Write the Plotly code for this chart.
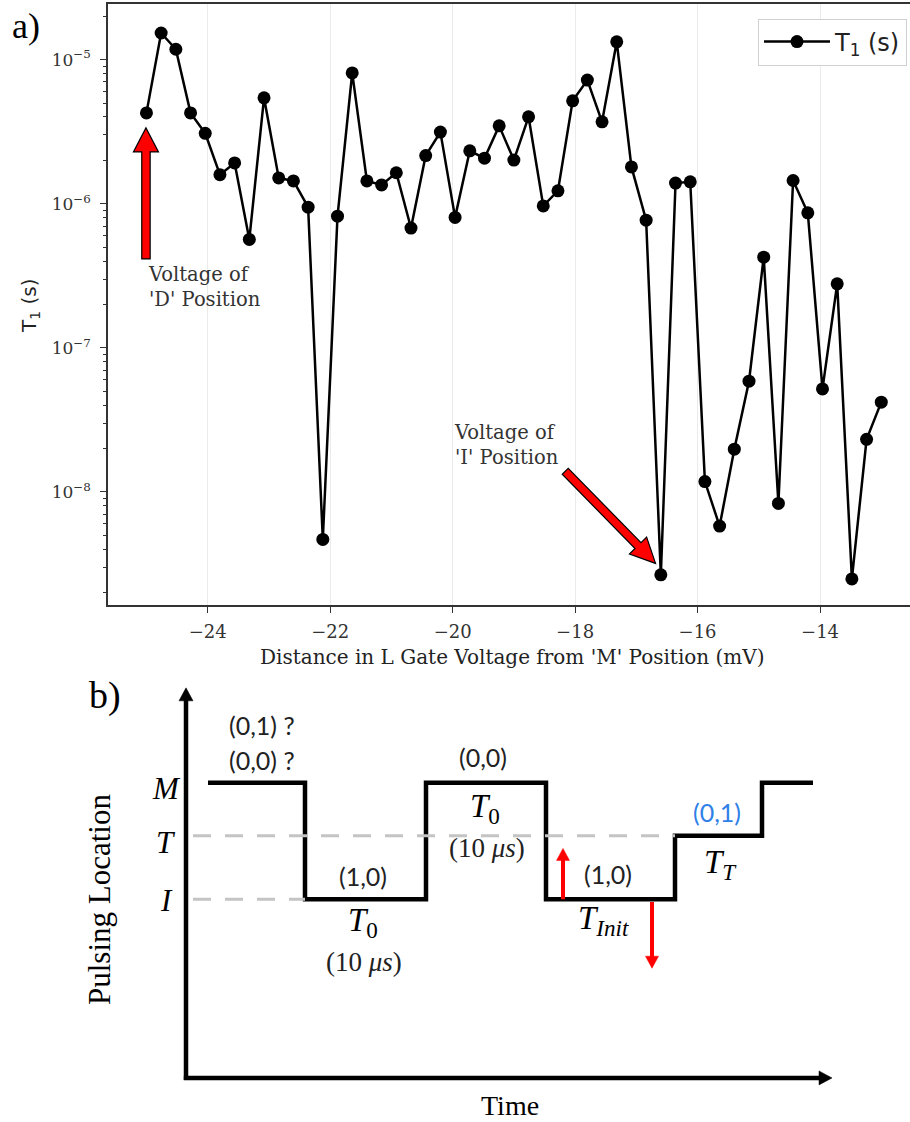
import math
import plotly.graph_objects as go

W, H = 910, 1122

# ---------------- Panel a) data ----------------
gate_mv = [-25.00, -24.76, -24.52, -24.28, -24.04, -23.80, -23.56, -23.32, -23.08, -22.84,
           -22.60, -22.36, -22.12, -21.88, -21.64, -21.40, -21.16, -20.92, -20.68, -20.44,
           -20.20, -19.96, -19.72, -19.48, -19.24, -19.00, -18.76, -18.52, -18.28, -18.04,
           -17.80, -17.56, -17.32, -17.08, -16.84, -16.60, -16.36, -16.12, -15.88, -15.64,
           -15.40, -15.16, -14.92, -14.68, -14.44, -14.20, -13.96, -13.72, -13.48, -13.24,
           -13.00]
t1_s = [4.27e-6, 1.53e-5, 1.18e-5, 4.27e-6, 3.08e-6, 1.59e-6, 1.92e-6, 5.65e-7, 5.43e-6, 1.51e-6,
        1.44e-6, 9.46e-7, 4.68e-9, 8.20e-7, 8.09e-6, 1.44e-6, 1.35e-6, 1.64e-6, 6.78e-7, 2.16e-6,
        3.14e-6, 8.04e-7, 2.33e-6, 2.07e-6, 3.47e-6, 2.01e-6, 4.01e-6, 9.66e-7, 1.23e-6, 5.18e-6,
        7.21e-6, 3.70e-6, 1.33e-5, 1.80e-6, 7.69e-7, 2.66e-9, 1.39e-6, 1.42e-6, 1.18e-8, 5.80e-9,
        1.98e-8, 5.87e-8, 4.26e-7, 8.32e-9, 1.45e-6, 8.65e-7, 5.19e-8, 2.78e-7, 2.49e-9, 2.32e-8,
        4.20e-8]
x_tick_vals = [-24, -22, -20, -18, -16, -14]
y_tick_vals = [1e-8, 1e-7, 1e-6, 1e-5]
y_tick_text = ["10<sup>−8</sup>", "10<sup>−7</sup>", "10<sup>−6</sup>", "10<sup>−5</sup>"]
y_minor_vals = [k * 10.0 ** e for e in range(-9, -4) for k in range(2, 10)]
d_point_index = 0     # "Voltage of 'D' Position"
i_point_index = 35    # "Voltage of 'I' Position"

# ---------------- Panel b) schematic ----------------
level_names = ["M", "T", "I"]
level_values = [2.2, 1.2, 0.0]
pulse_times = [2.2, 11.9, 24.0, 36.0, 48.9, 57.6, 62.7]
pulse_levels = ["M", "I", "M", "I", "T", "M", "M"]
axis_origin = [0.0, -3.37]
time_axis_end = 64.6
loc_axis_end = 3.99
dash_start = 0.7
tunnel_up_t, tunnel_up_top = 37.7, 0.96
tunnel_down_t, tunnel_down_bottom = 46.6, -1.30

lvl = dict(zip(level_names, level_values))

# schematic axis geometry
X2_RANGE = [-18.6, 72.4]
Y2_DOMAIN_TOP_PX = 650
Y2_RANGE = [-4.2019, 4.7038]
PX_PER_T = W / (X2_RANGE[1] - X2_RANGE[0])
PX_PER_LV = (H - Y2_DOMAIN_TOP_PX) / (Y2_RANGE[1] - Y2_RANGE[0])


def px(x):
    return x / W


def py(y):
    return 1 - y / H


SERIF = "DejaVu Serif"
SANS = "DejaVu Sans"
TNR = "Liberation Serif"
CAL = "Lato"

fig = go.Figure()

fig.add_trace(go.Scatter(
    x=gate_mv, y=t1_s, mode="lines+markers", name="T<sub>1</sub> (s)",
    line=dict(color="black", width=2.5),
    marker=dict(color="black", size=13),
    xaxis="x", yaxis="y"))


def poly_path(pts):
    return "M " + " L ".join(f"{a:.2f},{b:.2f}" for a, b in pts) + " Z"


def fat_arrow_path(tip, direction, total_len, head_len, head_half, shaft_half):
    dx, dy = direction
    n = math.hypot(dx, dy)
    ux, uy = dx / n, dy / n
    nx, ny = -uy, ux
    tx, ty = tip
    bx, by = tx - head_len * ux, ty - head_len * uy
    ex, ey = tx - total_len * ux, ty - total_len * uy
    pts = [(tx, ty),
           (bx + head_half * nx, by + head_half * ny),
           (bx + shaft_half * nx, by + shaft_half * ny),
           (ex + shaft_half * nx, ey + shaft_half * ny),
           (ex - shaft_half * nx, ey - shaft_half * ny),
           (bx - shaft_half * nx, by - shaft_half * ny),
           (bx - head_half * nx, by - head_half * ny)]
    return poly_path(pts)


shapes = []
for idx, tip, direc, tot, hl, hh in [
        (d_point_index, (-0.5, -15.0), (0, 1), 131, 24, 12.5),
        (i_point_index, (-5.3, 11.4), (90.3, -92.1), 129, 25, 12.0)]:
    shapes.append(dict(
        type="path", xref="x", yref="y", xsizemode="pixel", ysizemode="pixel",
        xanchor=gate_mv[idx], yanchor=t1_s[idx],
        path=fat_arrow_path(tip, direc, tot, hl, hh, 4.2),
        fillcolor="#ff0000", line=dict(color="black", width=1.2), layer="above"))


def head_shape(tx, ty, direction, length, half, color):
    """Triangular arrow head (pixel sized) anchored at a tip in schematic coords."""
    dx, dy = direction
    n = math.hypot(dx, dy)
    ux, uy = dx / n, dy / n
    nx, ny = -uy, ux
    bx, by = -length * ux, -length * uy
    pts = [(0, 0), (bx + half * nx, by + half * ny), (bx - half * nx, by - half * ny)]
    shapes.append(dict(
        type="path", xref="x2", yref="y2", xsizemode="pixel", ysizemode="pixel",
        xanchor=tx, yanchor=ty, path=poly_path(pts),
        fillcolor=color, line=dict(color=color, width=0.5), layer="above"))


# ---------------- Panel b traces ----------------
fig.add_trace(go.Scatter(
    x=pulse_times, y=[lvl[n] for n in pulse_levels], mode="lines", line_shape="hv",
    line=dict(color="black", width=4.5), showlegend=False, xaxis="x2", yaxis="y2"))

for name, end in [("T", pulse_times[4]), ("I", pulse_times[1])]:
    fig.add_trace(go.Scatter(
        x=[dash_start, end], y=[lvl[name], lvl[name]], mode="lines",
        line=dict(color="#c4c4c4", width=3, dash="18px,14px"),
        showlegend=False, xaxis="x2", yaxis="y2"))


def arrow_line(x0, y0, x1, y1, width, color, head_len, head_half):
    dxp = (x1 - x0) * PX_PER_T
    dyp = (y1 - y0) * PX_PER_LV
    n = math.hypot(dxp, dyp)
    back = head_len - 1.0
    xe = x1 - (dxp / n) * back / PX_PER_T
    ye = y1 - (dyp / n) * back / PX_PER_LV
    fig.add_trace(go.Scatter(
        x=[x0, xe], y=[y0, ye], mode="lines", line=dict(color=color, width=width),
        showlegend=False, xaxis="x2", yaxis="y2"))
    head_shape(x1, y1, (dxp, dyp), head_len, head_half, color)


arrow_line(axis_origin[0], axis_origin[1] - 0.04, axis_origin[0], loc_axis_end, 4.5, "black", 13, 7)
arrow_line(axis_origin[0] - 0.22, axis_origin[1], time_axis_end, axis_origin[1], 4.5, "black", 13, 7)
arrow_line(tunnel_up_t, lvl["I"], tunnel_up_t, tunnel_up_top, 4, "#ff0000", 12, 6.5)
arrow_line(tunnel_down_t, lvl["I"] - 0.05, tunnel_down_t, tunnel_down_bottom, 4, "#ff0000", 12, 6.5)

ann = []


def A(text, x, y, size, family, color="black", xref="paper", yref="paper", **kw):
    d = dict(text=text, x=x, y=y, xref=xref, yref=yref, showarrow=False,
             xanchor="center", yanchor="middle",
             font=dict(size=size, family=family, color=color))
    d.update(kw)
    ann.append(d)


# panel a texts
A("a)", px(26), py(26), 36, TNR)
A("T<sub>1</sub> (s)", px(30), py(306), 20, SANS, "#222", textangle=-90)
A("Distance in L Gate Voltage from 'M' Position (mV)", px(512), py(657), 20, SERIF, "#222")
A("Voltage of<br>'D' Position", px(146), py(261), 19.5, SERIF, "#333",
  xanchor="left", yanchor="top", align="left")
A("Voltage of<br>'I' Position", px(452), py(419), 19.5, SERIF, "#333",
  xanchor="left", yanchor="top", align="left")

# panel b texts
A("b)", px(105), py(695), 38, TNR)
A("Pulsing Location", px(99), py(900), 31, TNR, textangle=-90)
A("Time", px(510), py(1105), 28, TNR)
for name, ypx in [("M", 788), ("T", 842), ("I", 900)]:
    A(f"<i>{name}</i>", px(166), py(ypx), 31, TNR)

X2 = dict(xref="x2", yref="y2")
A("(0,1) ?", 7.6, 3.29, 25, CAL, "#222", **X2)
A("(0,0) ?", 7.6, 2.63, 25, CAL, "#222", **X2)
A("(0,0)", 29.7, 2.685, 25, CAL, "#222", **X2)
A("(1,0)", 17.65, 0.44, 25, CAL, "#222", **X2)
A("<i>T</i><sub>0</sub>", 17.7, -0.44, 33, TNR, **X2)
A("(10 <i>μs</i>)", 17.75, -1.18, 27, TNR, "#222", **X2)
A("<i>T</i><sub>0</sub>", 29.9, 1.71, 33, TNR, **X2)
A("(10 <i>μs</i>)", 30.1, 0.97, 27, TNR, "#222", **X2)
A("(1,0)", 42.2, 0.48, 25, CAL, "#222", **X2)
A("<i>T</i><sub><i>Init</i></sub>", 41.7, -0.40, 33, TNR, **X2)
A("(0,1)", 53.05, 1.65, 25, CAL, "#2f80e8", **X2)
A("<i>T</i><sub><i>T</i></sub>", 53.4, 0.66, 33, TNR, **X2)

L_PX, R_PX, T_PX, B_PX = 108, 910, 4, 605
AX_COL = "#333333"

fig.update_layout(
    width=W, height=H, margin=dict(l=0, r=0, t=0, b=0),
    paper_bgcolor="white", plot_bgcolor="white",
    shapes=shapes, annotations=ann,
    showlegend=True,
    legend=dict(x=px(907), xanchor="right", y=py(42), yanchor="middle",
                bgcolor="white", bordercolor="#d0d0d0", borderwidth=1, itemwidth=66,
                font=dict(family=SANS, size=24, color="#222")),
    xaxis=dict(domain=[px(L_PX), px(R_PX)], range=[-25.628, -12.531], anchor="y",
               tickmode="array", tickvals=x_tick_vals, ticks="outside", ticklen=6,
               tickwidth=1.2, tickcolor=AX_COL, showline=True, linecolor=AX_COL,
               linewidth=1.5, mirror=True, showgrid=True, gridcolor="#ebebeb",
               gridwidth=1, zeroline=False, ticklabelstandoff=4,
               tickfont=dict(family=SERIF, size=18, color="#333")),
    yaxis=dict(domain=[py(B_PX), py(T_PX)], type="log", range=[-8.7845, -4.614],
               anchor="x", tickmode="array", tickvals=y_tick_vals, ticktext=y_tick_text,
               ticks="outside", ticklen=6, tickwidth=1.2, tickcolor=AX_COL,
               showline=True, linecolor=AX_COL, linewidth=1.5, showgrid=False,
               zeroline=False, ticklabelstandoff=6,
               minor=dict(tickmode="array", tickvals=y_minor_vals, ticks="outside",
                          ticklen=3.5, tickwidth=1, tickcolor=AX_COL, showgrid=False),
               tickfont=dict(family=SERIF, size=17, color="#333")),
    xaxis2=dict(domain=[0, 1], range=X2_RANGE, anchor="y2", visible=False),
    yaxis2=dict(domain=[0, py(Y2_DOMAIN_TOP_PX)], range=Y2_RANGE, anchor="x2", visible=False),
)

fig.write_html("out.html")
